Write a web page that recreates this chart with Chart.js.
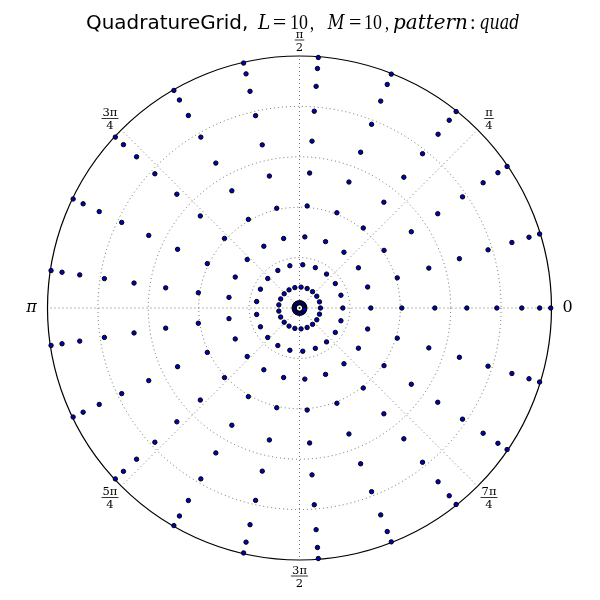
<!DOCTYPE html>
<html>
<head>
<meta charset="utf-8">
<script src="https://cdn.jsdelivr.net/npm/chart.js@4/dist/chart.umd.min.js"></script>
<style>
html,body{margin:0;padding:0;background:#fff;}
#c{display:block;}
</style>
</head>
<body>
<canvas id="c" width="600" height="600"></canvas>
<script>
// Radial quadrature nodes (rho)
const rhoNodes = [0.021, 0.083, 0.172, 0.283, 0.406, 0.537, 0.664, 0.783, 0.882, 0.953, 0.997];
// Poloidal nodes (degrees)
const thetaNodesDeg = [0, 17.14, 34.29, 51.43, 68.57, 85.71, 102.86, 120, 137.14, 154.29, 171.43,
  188.57, 205.71, 222.86, 240, 257.14, 274.29, 291.43, 308.57, 325.71, 342.86];
// Radial grid rings
const ringTicks = [0.2, 0.4, 0.6, 0.8];
const rMax = 1.0;
// Angular grid
const spokeAnglesDeg = [0, 45, 90, 135, 180, 225, 270, 315];
const spokeLabels = ['0', 'π/4', 'π/2', '3π/4', 'π', '5π/4', '3π/2', '7π/4'];

const points = [];
rhoNodes.forEach(r => thetaNodesDeg.forEach(t => {
  const a = t * Math.PI / 180;
  points.push({x: r * Math.cos(a), y: r * Math.sin(a)});
}));

const polarPlugin = {
  id: 'polarGrid',
  beforeDatasetsDraw(chart) {
    const ctx = chart.ctx, xs = chart.scales.x, ys = chart.scales.y;
    const cx = xs.getPixelForValue(0), cy = ys.getPixelForValue(0);
    const R = xs.getPixelForValue(rMax) - cx;
    ctx.save();
    ctx.strokeStyle = 'rgba(0,0,0,0.8)';
    ctx.lineWidth = 0.7;
    ctx.setLineDash([1, 3]);
    ringTicks.forEach(v => {
      const rr = xs.getPixelForValue(v) - cx;
      ctx.beginPath(); ctx.arc(cx, cy, rr, 0, Math.PI * 2); ctx.stroke();
    });
    spokeAnglesDeg.forEach(d => {
      const a = d * Math.PI / 180;
      ctx.beginPath(); ctx.moveTo(cx, cy);
      ctx.lineTo(cx + R * Math.cos(a), cy - R * Math.sin(a)); ctx.stroke();
    });
    ctx.setLineDash([]);
    ctx.strokeStyle = '#000';
    ctx.lineWidth = 1.2;
    ctx.beginPath(); ctx.arc(cx, cy, R, 0, Math.PI * 2); ctx.stroke();
    ctx.restore();
  },
  afterDraw(chart) {
    const ctx = chart.ctx, xs = chart.scales.x, ys = chart.scales.y;
    const cx = xs.getPixelForValue(0), cy = ys.getPixelForValue(0);
    const R = xs.getPixelForValue(rMax) - cx;
    const LR = R + 16;
    ctx.save();
    ctx.fillStyle = '#000';
    ctx.textAlign = 'center';
    spokeLabels.forEach((lab, i) => {
      const a = spokeAnglesDeg[i] * Math.PI / 180;
      const lx = cx + LR * Math.cos(a), ly = cy - LR * Math.sin(a);
      if (lab.indexOf('/') >= 0) {
        const [num, den] = lab.split('/');
        ctx.font = '11.5px "DejaVu Serif"';
        ctx.textBaseline = 'alphabetic';
        ctx.fillText(num, lx, ly - 2.5);
        ctx.fillText(den, lx, ly + 10.5);
        const w = Math.max(ctx.measureText(num).width, ctx.measureText(den).width) + 2;
        ctx.fillRect(lx - w / 2, ly - 0.4, w, 0.8);
      } else {
        ctx.font = (lab === 'π' ? 'italic ' : '') + '16px "DejaVu Serif"';
        ctx.textBaseline = 'middle';
        ctx.fillText(lab, lx, ly);
      }
    });
    // Title (mixed text + math); each piece's ink fitted between x0 and x1
    const sans = '20px "DejaVu Sans"', ser = '20px "Liberation Serif"', it = 'italic 20px "DejaVu Serif"';
    const parts = [
      ['QuadratureGrid,', sans, 87, 247],
      ['L', it, 257, 270], ['=', ser, 274, 286], ['10', ser, 291, 308], [',', ser, 310, 313],
      ['M', it, 327, 345], ['=', ser, 350, 361], ['10', ser, 365, 382], [',', ser, 385, 388],
      ['pattern', it, 393, 467], [':', ser, 471, 474], ['quad', it, 480, 518]
    ];
    ctx.textAlign = 'left';
    ctx.textBaseline = 'alphabetic';
    parts.forEach(([t, f, x0, x1]) => {
      ctx.font = f;
      const m = ctx.measureText(t);
      const ink = m.actualBoundingBoxLeft + m.actualBoundingBoxRight;
      const s = Math.min(1.25, Math.max(0.8, (x1 - x0) / ink));
      ctx.save();
      ctx.translate(x0, 29);
      ctx.scale(s, 1);
      ctx.fillText(t, m.actualBoundingBoxLeft, 0);
      ctx.restore();
    });
    ctx.restore();
  }
};

new Chart(document.getElementById('c'), {
  type: 'scatter',
  data: {
    datasets: [{
      data: points,
      backgroundColor: '#0000c0',
      borderColor: '#000',
      borderWidth: 1,
      pointRadius: 2.2,
      clip: false
    }]
  },
  options: {
    responsive: false,
    animation: false,
    devicePixelRatio: 1,
    layout: {padding: {left: 47.5, right: 48.5, top: 56, bottom: 40}},
    scales: {
      x: {type: 'linear', min: -rMax, max: rMax, display: false},
      y: {type: 'linear', min: -rMax, max: rMax, display: false}
    },
    plugins: {legend: {display: false}, tooltip: {enabled: false}, title: {display: false}}
  },
  plugins: [polarPlugin]
});
</script>
</body>
</html>
